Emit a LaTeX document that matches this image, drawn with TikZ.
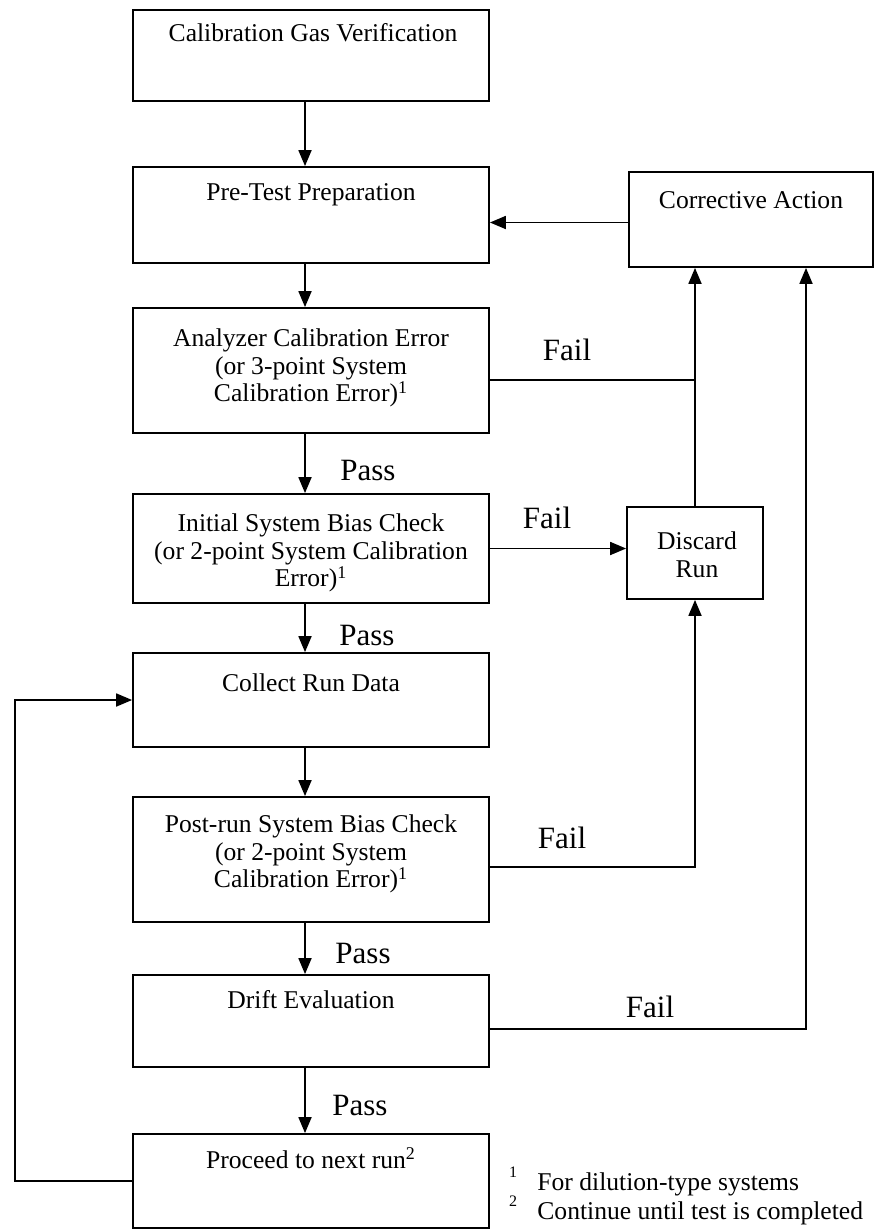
\documentclass[tikz,border=0pt]{standalone}
\usepackage{fontspec}
\setmainfont{Liberation Serif}
\usetikzlibrary{arrows.meta,calc}
\begin{document}
\begin{tikzpicture}[x=0.5pt,y=-0.5pt,
  box/.style={draw,line width=0.9pt,inner sep=0pt},
  txt/.style={font=\fontsize{12.8}{13.9}\selectfont,align=center,inner sep=0pt},
  lbl/.style={font=\fontsize{15.5}{18}\selectfont,inner sep=0pt},
  fn/.style={font=\fontsize{12.8}{13.9}\selectfont,inner sep=0pt,anchor=west},
  fnmark/.style={font=\fontsize{8}{8}\selectfont,inner sep=0pt},
  arr/.style={line width=0.9pt,-{Triangle[length=8pt,width=6.5pt]}},
  ln/.style={line width=0.9pt}]
\useasboundingbox (0,0) rectangle (875,1231);

% boxes
\node[box,minimum width=178pt,minimum height=45.5pt] (b1) at (311,55.5) {};
\node[box,minimum width=178pt,minimum height=48pt] (b2) at (311,215) {};
\node[box,minimum width=178pt,minimum height=62.5pt] (b3) at (311,370.5) {};
\node[box,minimum width=178pt,minimum height=54.5pt] (b4) at (311,548.5) {};
\node[box,minimum width=178pt,minimum height=47pt] (b5) at (311,700) {};
\node[box,minimum width=178pt,minimum height=62.5pt] (b6) at (311,859.5) {};
\node[box,minimum width=178pt,minimum height=46pt] (b7) at (311,1021) {};
\node[box,minimum width=178pt,minimum height=47pt] (b8) at (311,1181) {};
\node[box,minimum width=122pt,minimum height=47.5pt] (ca) at (751,219.5) {};
\node[box,minimum width=68pt,minimum height=46pt] (dr) at (695,553) {};

% box texts
\node[txt] (t1) at (313,33) {Calibration Gas Verification};
\node[txt] (t2) at (311,195) {Pre-Test Preparation};
\node[txt] (t3) at (311,368) {Analyzer Calibration Error\\(or 3-point System\\Calibration Error)\textsuperscript{1}};
\node[txt] (t4) at (311,553) {Initial System Bias Check\\(or 2-point System Calibration\\Error)\textsuperscript{1}};
\node[txt] (t5) at (311,683) {Collect Run Data};
\node[txt] (t6) at (311,854) {Post-run System Bias Check\\(or 2-point System\\Calibration Error)\textsuperscript{1}};
\node[txt] (t7) at (311,1000) {Drift Evaluation};
\node[txt] (t8) at (311,1158) {Proceed to next run\textsuperscript{2}};
\node[txt] (tca) at (751,200) {Corrective Action};
\node[txt] (tdr) at (697,555) {Discard\\Run};

% main flow
\draw[arr] ([xshift=-3pt]b1.south) -- ([xshift=-3pt]b2.north);
\draw[arr] ([xshift=-3pt]b2.south) -- ([xshift=-3pt]b3.north);
\draw[arr] ([xshift=-3pt]b3.south) -- ([xshift=-3pt]b4.north);
\draw[arr] ([xshift=-3pt]b4.south) -- ([xshift=-3pt]b5.north);
\draw[arr] ([xshift=-3pt]b5.south) -- ([xshift=-3pt]b6.north);
\draw[arr] ([xshift=-3pt]b6.south) -- ([xshift=-3pt]b7.north);
\draw[arr] ([xshift=-3pt]b7.south) -- ([xshift=-3pt]b8.north);

% corrective action -> pre-test
\draw[arr] ([yshift=-1.5pt]ca.west) -- ([yshift=-1.5pt]ca.west -| b2.east);

% fail branches
\coordinate (j1) at (695,380);
\draw[ln] (b3.east |- j1) -- (j1);
\draw[arr] (dr.north -| j1) -- (ca.south -| j1);
\draw[arr] (b4.east) -- (b4.east -| dr.west);
\coordinate (j2) at (695,867);
\draw[arr] (b6.east |- j2) -- (j2) -- (dr.south -| j2);
\coordinate (j3) at (806,1029);
\draw[arr] (b7.east |- j3) -- (j3) -- (ca.south -| j3);

% loop back
\coordinate (j4) at (15,0);
\draw[arr] (b8.west) -- (b8.west -| j4) -- (b5.west -| j4) -- (b5.west);

% labels
\node[lbl] (f1) at (567,350) {Fail};
\node[lbl] (f2) at (547,518) {Fail};
\node[lbl] (f3) at (562,838) {Fail};
\node[lbl] (f4) at (650,1007) {Fail};
\node[lbl] (p1) at (368,470) {Pass};
\node[lbl] (p2) at (367,635) {Pass};
\node[lbl] (p3) at (363,953) {Pass};
\node[lbl] (p4) at (360,1105) {Pass};

% footnotes
\node[fnmark] (m1) at (513,1172) {1};
\node[fn] (n1) at (537,1184) {For dilution-type systems};
\node[fnmark] (m2) at (513,1201) {2};
\node[fn] (n2) at (537,1213) {Continue until test is completed};
\end{tikzpicture}
\end{document}
